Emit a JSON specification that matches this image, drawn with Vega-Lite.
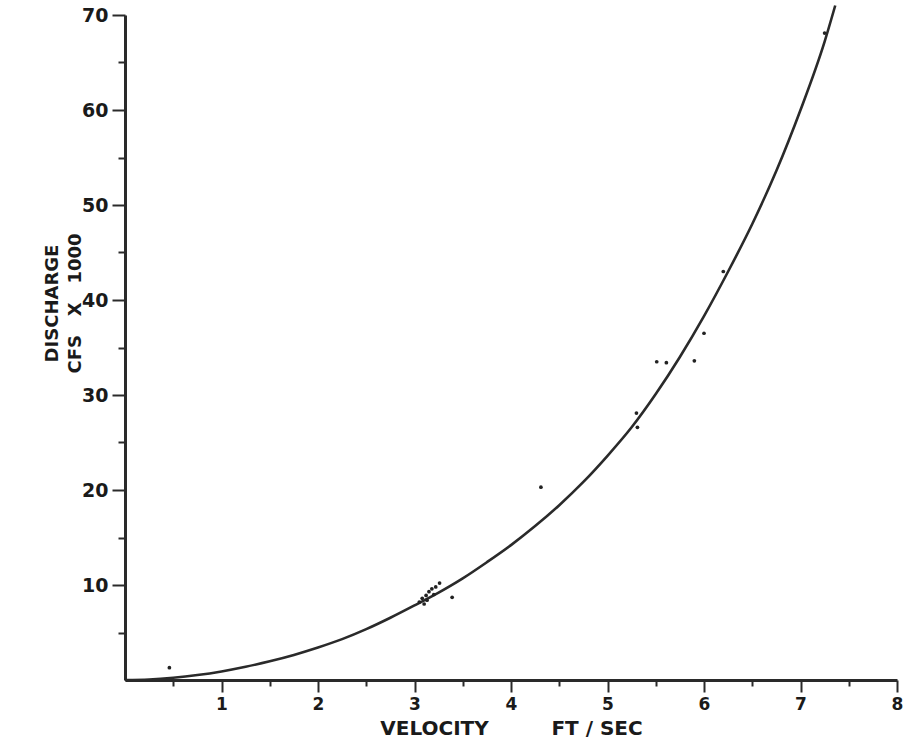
{
  "$schema": "https://vega.github.io/schema/vega-lite/v6.json",
  "autosize": {"type": "none"},
  "width": 772,
  "height": 665,
  "padding": {"left": 125, "top": 15, "right": 9, "bottom": 65},
  "background": "white",
  "config": {
    "view": {"stroke": null},
    "axis": {
      "grid": false,
      "domainColor": "#2a2a2a",
      "domainWidth": 3,
      "tickColor": "#2a2a2a",
      "tickWidth": 2,
      "labelFont": "DejaVu Sans",
      "labelFontWeight": "bold",
      "labelColor": "#1a1a1a",
      "titleFont": "DejaVu Sans",
      "titleFontWeight": "bold",
      "titleColor": "#1a1a1a"
    }
  },
  "datasets": {
    "curve": [
      {"v": 0, "q": 0}, {"v": 0.25, "q": 0.06}, {"v": 0.5, "q": 0.24}, {"v": 0.75, "q": 0.52},
      {"v": 1.0, "q": 0.9}, {"v": 1.25, "q": 1.39}, {"v": 1.5, "q": 1.97}, {"v": 1.75, "q": 2.64},
      {"v": 2.0, "q": 3.42}, {"v": 2.25, "q": 4.3}, {"v": 2.5, "q": 5.35}, {"v": 2.75, "q": 6.55},
      {"v": 3.0, "q": 7.85}, {"v": 3.25, "q": 9.2}, {"v": 3.5, "q": 10.7}, {"v": 3.75, "q": 12.4},
      {"v": 4.0, "q": 14.2}, {"v": 4.25, "q": 16.2}, {"v": 4.5, "q": 18.4}, {"v": 4.75, "q": 20.85},
      {"v": 5.0, "q": 23.6}, {"v": 5.25, "q": 26.6}, {"v": 5.5, "q": 30.1}, {"v": 5.75, "q": 34.0},
      {"v": 6.0, "q": 38.3}, {"v": 6.25, "q": 43.0}, {"v": 6.5, "q": 48.0}, {"v": 6.75, "q": 53.6},
      {"v": 7.0, "q": 60.0}, {"v": 7.25, "q": 67.2}, {"v": 7.36, "q": 71.0}
    ],
    "obs": [
      {"v": 0.46, "q": 1.3},
      {"v": 3.05, "q": 8.2}, {"v": 3.08, "q": 8.6}, {"v": 3.1, "q": 8.0}, {"v": 3.12, "q": 8.9},
      {"v": 3.15, "q": 9.3}, {"v": 3.18, "q": 9.6}, {"v": 3.2, "q": 9.0}, {"v": 3.22, "q": 9.8},
      {"v": 3.13, "q": 8.4}, {"v": 3.26, "q": 10.2}, {"v": 3.39, "q": 8.7},
      {"v": 4.31, "q": 20.3}, {"v": 5.3, "q": 28.1}, {"v": 5.31, "q": 26.6},
      {"v": 5.51, "q": 33.5}, {"v": 5.61, "q": 33.4}, {"v": 5.9, "q": 33.6}, {"v": 6.0, "q": 36.5},
      {"v": 6.2, "q": 43.0}, {"v": 7.25, "q": 68.1}
    ]
  },
  "layer": [
    {
      "data": {"name": "curve"},
      "mark": {"type": "line", "interpolate": "monotone", "color": "#2a2a2a", "strokeWidth": 2.6, "clip": false},
      "encoding": {
        "x": {
          "field": "v", "type": "quantitative",
          "scale": {"domain": [0, 8], "nice": false, "zero": true},
          "axis": {
            "values": [0.5, 1, 1.5, 2, 2.5, 3, 3.5, 4, 4.5, 5, 5.5, 6, 6.5, 7, 7.5, 8],
            "labelExpr": "datum.value % 1 === 0 ? '' + datum.value : ''",
            "tickSize": {"condition": {"test": "datum.value % 1 === 0", "value": 12}, "value": 6},
            "labelFontSize": 17,
            "labelPadding": 4,
            "labelFlush": false,
            "title": "VELOCITY\u00a0\u00a0\u00a0\u00a0\u00a0\u00a0\u00a0\u00a0\u00a0FT / SEC",
            "titleFontSize": 20,
            "titlePadding": 6
          }
        },
        "y": {
          "field": "q", "type": "quantitative",
          "scale": {"domain": [0, 70], "nice": false},
          "axis": {
            "values": [5, 10, 15, 20, 25, 30, 35, 40, 45, 50, 55, 60, 65, 70],
            "labelExpr": "datum.value % 10 === 0 ? '' + datum.value : ''",
            "tickSize": {"condition": {"test": "datum.value % 10 === 0", "value": 13}, "value": 7},
            "labelFontSize": 19,
            "labelPadding": 4,
            "labelFlush": false,
            "title": ["DISCHARGE", "CFS\u00a0\u00a0\u00a0X\u00a0\u00a0\u00a01000"],
            "titleFontSize": 18,
            "titleLineHeight": 23,
            "titleAngle": -90,
            "titleAlign": "center",
            "titleBaseline": "middle",
            "titleX": -73,
            "titleY": 288
          }
        }
      }
    },
    {
      "data": {"name": "obs"},
      "mark": {"type": "circle", "color": "#222222", "size": 14, "opacity": 1},
      "encoding": {
        "x": {"field": "v", "type": "quantitative"},
        "y": {"field": "q", "type": "quantitative"}
      }
    }
  ]
}
